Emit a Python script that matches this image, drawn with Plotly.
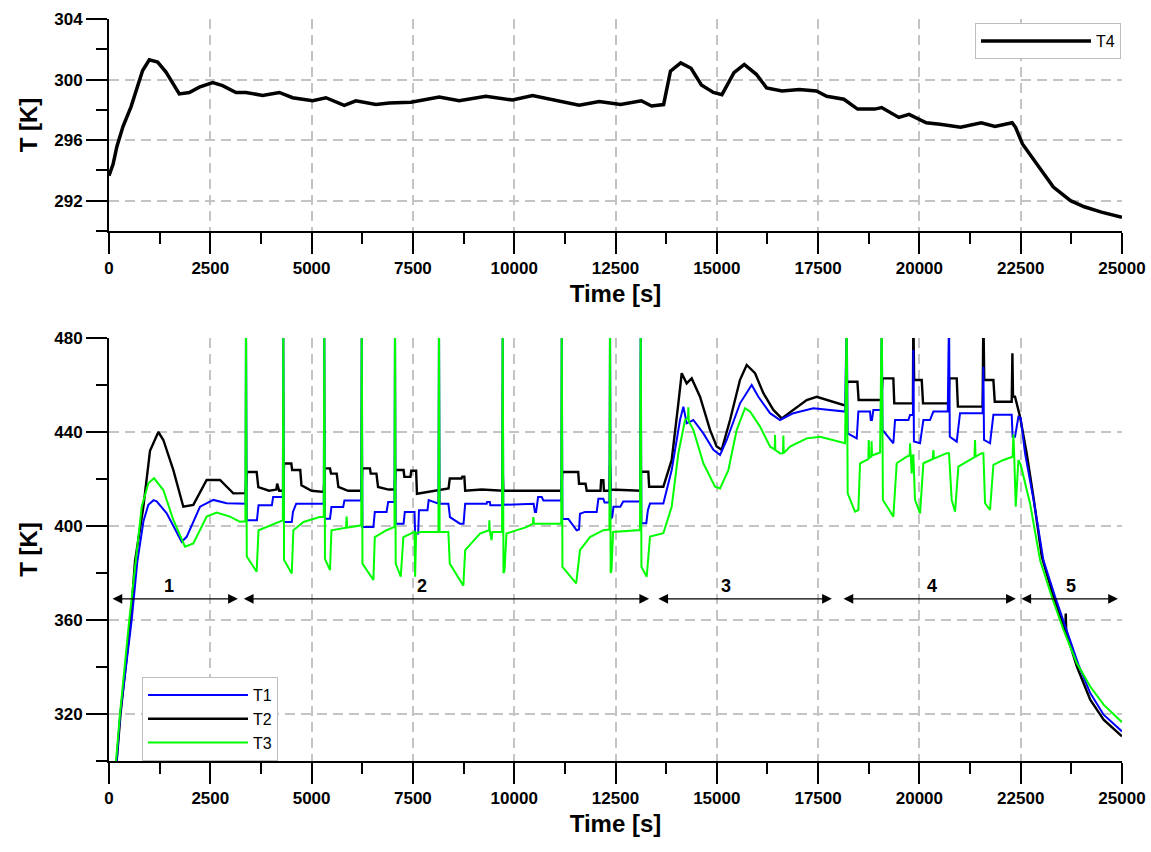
import plotly.graph_objects as go

# ---------------- data (time [s], temperature [K]) ----------------
T4_READINGS = [
    (0, 293.65), (100, 294.4), (197, 295.6), (345, 296.9), (543, 298.2), (700, 299.6), (830, 300.6),
    (995, 301.3), (1201, 301.15), (1406, 300.5), (1735, 299.05), (1982, 299.15), (2229, 299.5),
    (2558, 299.8), (2804, 299.6), (3133, 299.15), (3380, 299.15), (3791, 298.95), (3956, 299.05),
    (4202, 299.15), (4531, 298.8), (5025, 298.6), (5354, 298.8), (5806, 298.3), (6094, 298.6),
    (6587, 298.35), (6916, 298.45), (7451, 298.5), (8150, 298.85), (8643, 298.6), (9301, 298.9),
    (9959, 298.65), (10452, 298.95), (11110, 298.6), (11604, 298.3), (12097, 298.55), (12627, 298.35),
    (13136, 298.6), (13390, 298.25), (13687, 298.35), (13856, 300.55), (14110, 301.1), (14365, 300.75),
    (14619, 299.65), (14915, 299.15), (15127, 299.0), (15424, 300.45), (15678, 301.0), (15975, 300.35),
    (16229, 299.45), (16610, 299.25), (17034, 299.35), (17458, 299.25), (17712, 298.9), (18136, 298.7),
    (18475, 298.05), (18899, 298.05), (19068, 298.15), (19492, 297.5), (19746, 297.7), (20170, 297.15),
    (20509, 297.05), (21017, 296.85), (21526, 297.15), (21865, 296.9), (22289, 297.15), (22373, 296.85),
    (22543, 295.75), (22882, 294.45), (23306, 292.9), (23729, 292.0), (24068, 291.6), (24492, 291.25),
    (25000, 290.9),
]

T1_READINGS = [
    (190, 300), (277, 320), (560, 360), (700, 385), (850, 402), (971, 409), (1100, 411), (1177, 410.5),
    (1424, 405.4), (1794, 393.3), (1917, 395.4), (2246, 408.2), (2575, 411.1), (2904, 409.7), (3370, 409.5),
    (3381, 490), (3400, 402.4), (3650, 402.4), (3690, 408.8), (4020, 408.8), (4050, 412.3), (4290, 412.3),
    (4302, 490), (4320, 401.7), (4510, 401.7), (4540, 406), (4620, 409.5), (5300, 409.5),
    (5314, 490), (5330, 403.1), (5454, 403.1), (5490, 408.1), (5780, 408.1), (5810, 410.9), (6220, 410.9),
    (6237, 490), (6255, 399.6), (6525, 399.6), (6560, 406), (6850, 406), (6890, 410.2), (7045, 410.2),
    (7058, 490), (7075, 401), (7270, 401), (7300, 406), (7540, 406), (7555, 396.8), (7630, 396.8),
    (7650, 406.7), (7860, 406.7), (7890, 411), (8130, 409.5),
    (8144, 490), (8160, 409.5), (8375, 409.5), (8415, 403.8), (8660, 401), (8750, 401), (8790, 409.5),
    (9320, 409.5), (9330, 410.2), (9400, 410.2), (9410, 408.8), (9700, 408.8),
    (9716, 490), (9730, 409), (10480, 409.5), (10510, 406), (10540, 406), (10590, 412.3), (10680, 412.3),
    (10720, 410.9), (11160, 410.9),
    (11173, 490), (11190, 403), (11336, 403), (11542, 398.2), (11600, 398.5), (11624, 405.2), (11748, 406),
    (12036, 406), (12077, 411.6), (12200, 411.6), (12230, 410), (12350, 410),
    (12365, 490), (12380, 403), (12420, 403.8), (12450, 408.2), (12620, 408.2), (12690, 410.4), (13105, 410.4),
    (13122, 490), (13140, 401.2), (13260, 401.2), (13300, 406.8), (13352, 409.6), (13681, 409.6),
    (13887, 423.8), (14092, 445.1), (14175, 450.8), (14257, 443.7), (14421, 445.1), (14668, 439.4),
    (14915, 432.4), (15080, 430.2), (15245, 436.6), (15573, 452.2), (15861, 460), (16026, 455),
    (16314, 448), (16561, 445.1), (16890, 448), (17383, 450.1), (17877, 449.4), (18165, 448.7),
    (18206, 490), (18230, 439.4), (18453, 437.3), (18494, 448.7), (18782, 448.7), (18800, 445.1),
    (18830, 445.1), (18864, 449.4), (19050, 449.4), (19070, 490), (19090, 440.9), (19357, 435.2),
    (19399, 445.1), (19728, 445.1), (19769, 447.2), (19840, 447.2), (19851, 475), (19865, 436),
    (20016, 435.2), (20098, 445.1), (20262, 445.1), (20345, 448.7), (20700, 448.7), (20731, 490),
    (20750, 438), (20921, 435.9), (21003, 448), (21560, 448), (21579, 467.8), (21595, 436.6),
    (21743, 435.2), (21826, 447.3), (22278, 447.3), (22300, 438), (22360, 438), (22443, 446.5),
    (22500, 446), (22607, 430.9), (22830, 410), (23061, 385.4), (23350, 369.9), (23639, 355),
    (23927, 340.9), (24216, 328.9), (24546, 319.7), (25000, 312.6),
]

T2_READINGS = [
    (190, 300), (284, 320), (535, 360), (642, 385), (847, 408), (1012, 432), (1218, 440), (1341, 436.6),
    (1588, 423.8), (1834, 408.2), (2081, 409), (2410, 419.6), (2740, 419.6), (3068, 413.9), (3370, 414),
    (3400, 423), (3644, 423), (3685, 416.5), (3950, 415), (4130, 415.5), (4150, 418), (4200, 415), (4300, 415),
    (4320, 426.6), (4500, 426.6), (4520, 423.8), (4720, 423.8), (4750, 417.3), (5000, 415), (5300, 414.5),
    (5330, 424.5), (5454, 424.5), (5480, 422.3), (5620, 422.3), (5660, 416.6), (5900, 415), (6230, 415),
    (6250, 424.5), (6440, 424.5), (6460, 422.3), (6600, 422.3), (6640, 416.6), (6900, 415.5), (7050, 415.5),
    (7070, 423.8), (7270, 423.8), (7290, 420.9), (7440, 420.9), (7460, 423.5), (7580, 423.5), (7600, 413.7),
    (8380, 416), (8410, 420.2), (8700, 420.2), (8720, 421), (8770, 421), (8790, 415), (9200, 415.5),
    (9710, 415), (9716, 423.5), (9730, 415), (10400, 415), (11165, 415),
    (11185, 423), (11580, 423), (11600, 418), (11760, 418), (11790, 415), (12130, 415), (12145, 419.5),
    (12200, 419.5), (12215, 415), (12355, 415), (12365, 426), (12380, 415.5), (13110, 415),
    (13130, 423.1), (13310, 423.1), (13330, 416.7), (13680, 416.7), (13887, 428.1), (14051, 452.2),
    (14134, 465), (14257, 460.7), (14380, 462.8), (14586, 455), (14833, 440.9), (14997, 433.8),
    (15121, 432.4), (15327, 445.1), (15573, 462.2), (15738, 468.5), (15944, 465), (16149, 456.5),
    (16396, 449.4), (16602, 445.8), (16890, 449.4), (17219, 453.6), (17466, 455), (17712, 453.6),
    (18124, 451.5), (18195, 451.5),
    (18215, 461.4), (18470, 461.4), (18500, 453.6), (19060, 453.6), (19090, 462.8), (19357, 462.8),
    (19380, 452.2), (19840, 452.2), (19851, 490), (19870, 462.1), (20057, 462.1), (20090, 452.2),
    (20720, 452.2), (20740, 462.8), (20921, 462.8), (20950, 450.8), (21560, 450.8), (21579, 490),
    (21600, 462.1), (21826, 462.1), (21860, 452.9), (22278, 452.9), (22295, 473.5), (22310, 455),
    (22360, 455), (22484, 446.5), (22648, 430.9), (22813, 412.5), (23020, 387), (23309, 369.9),
    (23600, 355.5), (23612, 362.8), (23624, 354.8), (23886, 340.2), (24216, 326.1), (24546, 317.6),
    (25000, 310.5),
]

T3_READINGS = [
    (173, 300), (271, 320), (500, 360), (684, 390), (807, 408.2), (971, 418.2), (1111, 420.3),
    (1341, 415.3), (1588, 402.6), (1876, 391.2), (2081, 392.6), (2410, 404), (2658, 405.7), (2986, 404),
    (3233, 401.8), (3365, 402),
    (3381, 490), (3400, 387), (3644, 380.5), (3690, 398.2), (4000, 400.5), (4290, 402.4),
    (4302, 490), (4320, 385.5), (4510, 379.8), (4550, 398.2), (4800, 401.7), (5200, 403.8), (5300, 403.8),
    (5314, 490), (5330, 386), (5454, 381.2), (5490, 398.2), (5850, 399.3), (5865, 404), (5880, 399.3),
    (6225, 400.3),
    (6237, 490), (6255, 384), (6525, 377), (6560, 395.3), (6850, 398.2), (7045, 399.6),
    (7058, 490), (7075, 384), (7200, 378.4), (7265, 395.3), (7540, 397.5), (7555, 378.4), (7580, 397),
    (7700, 397.5), (8130, 397.5),
    (8144, 490), (8160, 397.5), (8375, 397.5), (8410, 384), (8745, 374.6), (8790, 389.7), (9156, 396.8),
    (9380, 398.2), (9387, 402.4), (9395, 398.2), (9440, 394), (9460, 397.5), (9700, 397.5),
    (9716, 490), (9735, 380), (9760, 381), (9810, 396.8), (10300, 399.5), (10460, 401), (10472, 403.8),
    (10485, 401), (11160, 401),
    (11173, 490), (11190, 382.6), (11530, 375.6), (11624, 389.7), (11870, 395.3), (12200, 398.2),
    (12350, 398.5),
    (12365, 490), (12380, 380), (12400, 381), (12440, 397.5), (13105, 398.3),
    (13122, 490), (13140, 382.7), (13270, 378.4), (13352, 395.5), (13681, 396.9), (13887, 408.2),
    (14051, 430.9), (14216, 445.1), (14290, 446), (14298, 450.5), (14310, 444.5), (14421, 440.9),
    (14668, 426.7), (14956, 416.7), (15080, 416), (15286, 423.8), (15491, 440.9), (15697, 450.1),
    (15820, 448.7), (16067, 442.3), (16314, 433.8), (16430, 432.5), (16437, 438.7), (16445, 432.3),
    (16561, 430.9), (16635, 431), (16643, 438.5), (16651, 431), (16808, 433.8), (17219, 437.3),
    (17548, 438), (17877, 436.6), (18165, 435.2),
    (18206, 490), (18230, 413.9), (18411, 406.1), (18494, 406.8), (18535, 426.7), (18699, 428.1),
    (18740, 428.5), (18750, 436.6), (18760, 429), (18810, 429.5), (18820, 436), (18830, 430),
    (19029, 431.3), (19070, 490), (19100, 411.1), (19357, 404), (19440, 426.7), (19687, 429.5),
    (19760, 430), (19769, 435.2), (19780, 429.8), (19810, 422.4), (19830, 429.8), (19851, 430),
    (19892, 411.1), (20016, 405.4), (20098, 426.7), (20304, 428.1), (20330, 428.5), (20345, 432.3),
    (20360, 428.7), (20674, 431), (20731, 431), (20797, 411.1), (20880, 406.1), (20962, 425.3),
    (21250, 428.1), (21360, 429.3), (21373, 436.6), (21386, 429.5), (21538, 431), (21579, 431),
    (21620, 409.7), (21743, 406.8), (21826, 426), (22073, 428.1), (22300, 429.5), (22320, 439),
    (22340, 430), (22377, 408.2), (22443, 428.1), (22500, 426), (22731, 409.6), (22979, 385.4),
    (23267, 369.9), (23556, 355.8), (23886, 341.6), (24216, 331.7), (24546, 324), (25000, 316.5),
]

# phases marked by double arrows in the lower panel
PHASE_NAMES = ["1", "2", "3", "4", "5"]
PHASE_START = [50, 3290, 13520, 18090, 22480]
PHASE_END = [3180, 13330, 17840, 22380, 24900]
PHASE_LABEL_TIME = [1480, 7725, 15230, 20310, 23740]
PHASE_ARROW_TEMP = 369
PHASE_LABEL_TEMP = 374.5


def split(pairs):
    return [p[0] for p in pairs], [p[1] for p in pairs]


FONT = "Liberation Sans, Arial, sans-serif"

fig = go.Figure()

x4, y4 = split(T4_READINGS)
fig.add_trace(go.Scatter(x=x4, y=y4, mode="lines", name="T4", xaxis="x", yaxis="y",
                         line=dict(color="black", width=3.5), legend="legend"))

x2, y2 = split(T2_READINGS)
x1, y1 = split(T1_READINGS)
x3, y3 = split(T3_READINGS)
fig.add_trace(go.Scatter(x=x2, y=y2, mode="lines", name="T2", xaxis="x2", yaxis="y2",
                         line=dict(color="black", width=2.4), legend="legend2", legendrank=2))
fig.add_trace(go.Scatter(x=x1, y=y1, mode="lines", name="T1", xaxis="x2", yaxis="y2",
                         line=dict(color="#0000ff", width=2), legend="legend2", legendrank=1))
fig.add_trace(go.Scatter(x=x3, y=y3, mode="lines", name="T3", xaxis="x2", yaxis="y2",
                         line=dict(color="#00ff00", width=2), legend="legend2", legendrank=3))

tickfont = dict(family=FONT, size=17, color="black", weight="bold")
titlefont = dict(family=FONT, size=24, color="black", weight="bold")

common = dict(
    showline=True, linecolor="black", linewidth=2,
    ticks="outside", ticklen=21, tickwidth=2, tickcolor="black",
    showgrid=True, gridcolor="#c4c4c4", gridwidth=1.5, griddash="10px,6px",
    zeroline=False, tickfont=tickfont, automargin=False, tickformat="d",
)

xcommon = dict(common, range=[0, 25000], tick0=0, dtick=2500,
               minor=dict(ticks="outside", ticklen=11, tickwidth=2, tickcolor="black",
                          tick0=0, dtick=1250, showgrid=False))

top_lo = (761 - 231) / 742
bot_hi = (761 - 338) / 742

fig.update_layout(
    width=1151, height=852,
    margin=dict(l=109, r=29, t=19, b=91),
    paper_bgcolor="white", plot_bgcolor="white",
    font=dict(family=FONT, color="black"),
    xaxis=dict(xcommon, anchor="y", domain=[0, 1],
               title=dict(text="Time [s]", font=titlefont, standoff=8)),
    yaxis=dict(common, anchor="x", domain=[top_lo, 1], range=[290, 304], tick0=292, dtick=4,
               minor=dict(ticks="outside", ticklen=11, tickwidth=2, tickcolor="black",
                          tick0=290, dtick=2, showgrid=False),
               title=dict(text="T [K]", font=titlefont, standoff=10)),
    xaxis2=dict(xcommon, anchor="y2", domain=[0, 1],
                title=dict(text="Time [s]", font=titlefont, standoff=8)),
    yaxis2=dict(common, anchor="x2", domain=[0, bot_hi], range=[300, 480], tick0=320, dtick=40,
                minor=dict(ticks="outside", ticklen=11, tickwidth=2, tickcolor="black",
                           tick0=300, dtick=20, showgrid=False),
                title=dict(text="T [K]", font=titlefont, standoff=10)),
    legend=dict(x=0.999, y=(761 - 23) / 742, xanchor="right", yanchor="top",
                bgcolor="white", bordercolor="#bdbdbd", borderwidth=1,
                font=dict(family=FONT, size=16, color="black"), itemwidth=110),
    legend2=dict(x=(142 - 109) / 1013, y=0.0, xanchor="left", yanchor="bottom",
                 bgcolor="white", bordercolor="#bdbdbd", borderwidth=1, traceorder="normal",
                 font=dict(family=FONT, size=16, color="black"), itemwidth=100),
    showlegend=True,
)

annotations = []
for name, t0, t1, tl in zip(PHASE_NAMES, PHASE_START, PHASE_END, PHASE_LABEL_TIME):
    annotations.append(dict(
        x=t1, y=PHASE_ARROW_TEMP, ax=t0, ay=PHASE_ARROW_TEMP,
        xref="x2", yref="y2", axref="x2", ayref="y2",
        text="", showarrow=True, arrowside="end+start",
        arrowhead=2, startarrowhead=2, arrowsize=1.5, startarrowsize=1.5,
        arrowwidth=1.3, arrowcolor="black", standoff=0, startstandoff=0,
    ))
    annotations.append(dict(
        x=tl, y=PHASE_LABEL_TEMP, xref="x2", yref="y2", text=name, showarrow=False,
        font=dict(family=FONT, size=18, color="black", weight="bold"),
    ))
fig.update_layout(annotations=annotations)

fig.write_html("out.html")
